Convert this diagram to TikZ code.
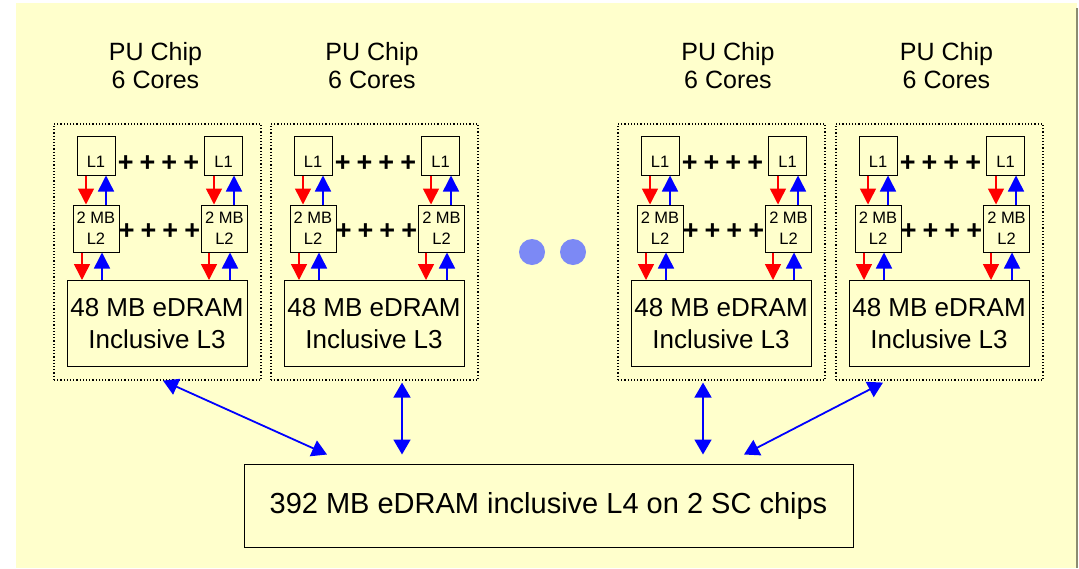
\documentclass[tikz,border=0pt]{standalone}
\usepackage{fontspec}
\setmainfont{Liberation Sans}
\usetikzlibrary{arrows.meta}

\begin{document}
\begin{tikzpicture}[x=1pt, y=-1pt,
    chipbox/.style={draw=black, line width=1.2pt, dash pattern=on 1.2pt off 2pt,
        minimum width=207pt, minimum height=256pt, inner sep=0pt},
    chiptitle/.style={align=center, inner sep=0pt, font=\fontsize{25}{28}\selectfont},
    lonebox/.style={draw=black, line width=1pt, fill=bgColour, inner sep=0pt,
        minimum width=38pt, minimum height=39pt, font=\fontsize{16.5}{18}\selectfont},
    ltwobox/.style={draw=black, line width=1pt, fill=bgColour, inner sep=0pt, align=center,
        minimum width=46pt, minimum height=47pt, font=\fontsize{16.5}{21}\selectfont},
    lthreebox/.style={draw=black, line width=1pt, fill=bgColour, inner sep=0pt, align=center,
        minimum width=180pt, minimum height=86pt, font=\fontsize{26}{32}\selectfont},
    lfourbox/.style={draw=black, line width=1pt, fill=bgColour, inner sep=0pt,
        minimum width=609pt, minimum height=83pt, font=\fontsize{29}{32}\selectfont},
    plusrow/.style={inner sep=0pt, font=\bfseries\fontsize{27}{27}\selectfont},
    downarrow/.style={draw=red, line width=1.5pt, -{Triangle[width=16pt,length=16pt]}},
    uparrow/.style={draw=blue, line width=1.5pt, -{Triangle[width=16pt,length=16pt]}},
    linkarrow/.style={draw=blue, line width=1.8pt,
        {Triangle[width=17pt,length=15pt]}-{Triangle[width=17pt,length=15pt]}},
    moredot/.style={circle, fill=dotColour, inner sep=0pt, minimum size=26pt}]

    % Define colours
    \definecolor{bgColour}{HTML}{FFFFCC}
    \definecolor{dotColour}{HTML}{7C89F5}
    \definecolor{shadowColour}{HTML}{8C8C70}

    % Define plus signs
    \def\pluses{+\kern6pt+\kern6pt+\kern6pt+}

    % Page and background
    \useasboundingbox (0,0) rectangle (1079,568);
    \fill[bgColour] (16,3) rectangle (1077,568);
    \draw[shadowColour, line width=1.5pt] (1077,8) -- (1077,568);

    % PU chips
    \foreach \i/\dx/\tx in {1/0/155.5, 2/217/372, 3/564/728, 4/782/946.5} {
        \node[chiptitle] (title\i) at (\tx,66) {PU Chip\\6 Cores};
        \begin{scope}[xshift=\dx pt]
            \node[chipbox] (chip\i) at (157.5,252) {};
            % L1 and L2 caches
            \node[lonebox] (l1a\i) at (96,155.5) {\raisebox{-11.5pt}[0pt][0pt]{L1}};
            \node[lonebox] (l1b\i) at (223.5,155.5) {\raisebox{-11.5pt}[0pt][0pt]{L1}};
            \node[ltwobox] (l2a\i) at (96,228.5) {2 MB\\L2};
            \node[ltwobox] (l2b\i) at (224.5,228.5) {2 MB\\L2};
            \node[plusrow] (plusa\i) at (158.5,164) {\pluses};
            \node[plusrow] (plusb\i) at (159.5,232) {\pluses};
            % L3 cache
            \node[lthreebox] (l3\i) at (157,323.5) {48 MB eDRAM\\Inclusive L3};
            % Arrows L1 <-> L2
            \draw[downarrow] ([xshift=-10pt]l1a\i.south) -- ([xshift=-10pt]l1a\i.south |- l2a\i.north);
            \draw[uparrow] ([xshift=10pt]l2a\i.north) -- ([xshift=10pt]l2a\i.north |- l1a\i.south);
            \draw[downarrow] ([xshift=-9.5pt]l1b\i.south) -- ([xshift=-9.5pt]l1b\i.south |- l2b\i.north);
            \draw[uparrow] ([xshift=10.5pt]l1b\i.south |- l2b\i.north) -- ([xshift=10.5pt]l1b\i.south);
            % Arrows L2 <-> L3
            \draw[downarrow] ([xshift=-14pt]l2a\i.south) -- ([xshift=-14pt]l2a\i.south |- l3\i.north);
            \draw[uparrow] ([xshift=6pt]l2a\i.south |- l3\i.north) -- ([xshift=6pt]l2a\i.south);
            \draw[downarrow] ([xshift=-15.5pt]l2b\i.south) -- ([xshift=-15.5pt]l2b\i.south |- l3\i.north);
            \draw[uparrow] ([xshift=5.5pt]l2b\i.south |- l3\i.north) -- ([xshift=5.5pt]l2b\i.south);
        \end{scope}
    }

    % More chips
    \node[moredot] (dota) at (532,252) {};
    \node[moredot] (dotb) at (573,252) {};

    % L4 cache
    \node[lfourbox] (l4) at (548.5,505.5) {392 MB eDRAM inclusive L4 on 2 SC chips};

    % Links to L4
    \draw[linkarrow] ([xshift=5.5pt]chip1.south) -- ([xshift=-221.5pt, yshift=9pt]l4.north);
    \draw[linkarrow] ([xshift=27.5pt, yshift=-2pt]chip2.south) -- ([xshift=-146.5pt, yshift=9pt]l4.north);
    \draw[linkarrow] ([xshift=-18.5pt, yshift=-2pt]chip3.south) -- ([xshift=154.5pt, yshift=9pt]l4.north);
    \draw[linkarrow] ([xshift=-56.5pt, yshift=-2pt]chip4.south) -- ([xshift=195.5pt, yshift=9pt]l4.north);

\end{tikzpicture}
\end{document}
